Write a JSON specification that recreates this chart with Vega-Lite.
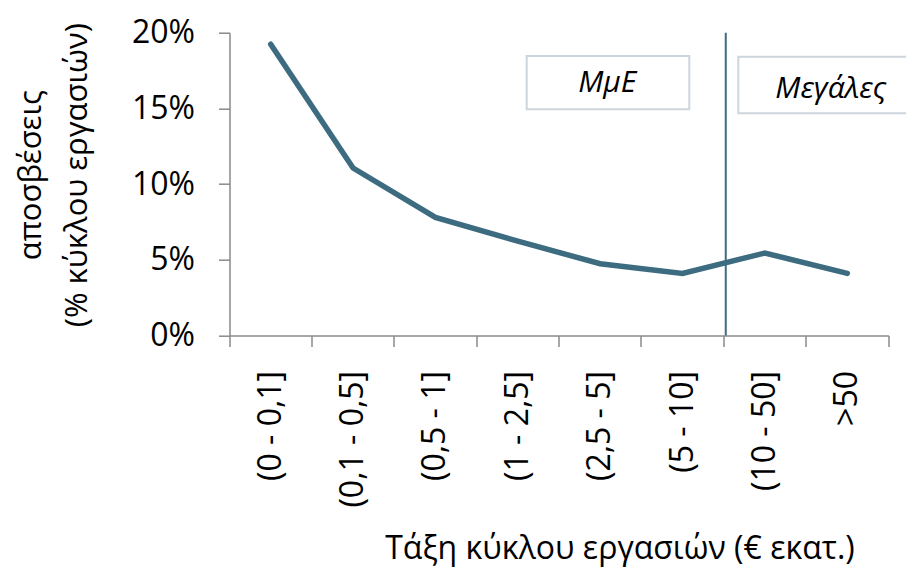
{
  "$schema": "https://vega.github.io/schema/vega-lite/v6.json",
  "autosize": {"type": "none"},
  "width": 659,
  "height": 302.8,
  "padding": {"left": 229.5, "top": 32.7, "right": 17.5, "bottom": 237.5},
  "background": "#ffffff",
  "datasets": {
    "series": [
      {"cat": "(0 - 0,1]", "v": 0.1924},
      {"cat": "(0,1 - 0,5]", "v": 0.1106},
      {"cat": "(0,5 - 1]", "v": 0.0780},
      {"cat": "(1 - 2,5]", "v": 0.0623},
      {"cat": "(2,5 - 5]", "v": 0.0474},
      {"cat": "(5 - 10]", "v": 0.0410},
      {"cat": "(10 - 50]", "v": 0.0545},
      {"cat": ">50", "v": 0.0410}
    ],
    "boxSME": [{"cat": "(2,5 - 5]", "lo": 0.1494, "hi": 0.1846, "t": 0.1610, "label": "ΜμΕ"}],
    "boxLarge": [{"cat": ">50", "lo": 0.1468, "hi": 0.1841, "t": 0.1568, "label": "Μεγάλες"}],
    "divider": [{"cat": "(10 - 50]"}]
  },
  "layer": [
    {
      "data": {"name": "boxSME"},
      "mark": {"type": "bar", "width": 162.6, "xOffset": 7.8, "fill": "#ffffff", "stroke": "#cdd5dc", "strokeWidth": 2},
      "encoding": {
        "x": {"field": "cat", "type": "ordinal", "title": "Τάξη κύκλου εργασιών (€ εκατ.)",
              "scale": {"type": "band", "paddingInner": 0, "paddingOuter": 0, "domain": ["(0 - 0,1]", "(0,1 - 0,5]", "(0,5 - 1]", "(1 - 2,5]", "(2,5 - 5]", "(5 - 10]", "(10 - 50]", ">50"]}},
        "y": {"field": "lo", "type": "quantitative", "title": ["αποσβέσεις", "(% κύκλου εργασιών)"], "scale": {"domain": [0, 0.2], "nice": false, "zero": true},
              "axis": {"values": [0, 0.05, 0.1, 0.15, 0.2], "format": ".0%"}},
        "y2": {"field": "hi"}
      }
    },
    {
      "data": {"name": "boxLarge"},
      "mark": {"type": "bar", "width": 186, "xOffset": -16, "fill": "#ffffff", "stroke": "#cdd5dc", "strokeWidth": 2},
      "encoding": {
        "x": {"field": "cat", "type": "ordinal", "title": "Τάξη κύκλου εργασιών (€ εκατ.)"},
        "y": {"field": "lo", "type": "quantitative", "title": ["αποσβέσεις", "(% κύκλου εργασιών)"],
              "axis": {"values": [0, 0.05, 0.1, 0.15, 0.2], "format": ".0%"}},
        "y2": {"field": "hi"}
      }
    },
    {
      "data": {"name": "boxSME"},
      "mark": {"type": "text", "font": "Open Sans", "fontStyle": "italic", "fontSize": 30, "color": "#000000", "align": "center", "baseline": "alphabetic"},
      "encoding": {
        "x": {"field": "cat", "type": "ordinal", "bandPosition": 0.586, "title": "Τάξη κύκλου εργασιών (€ εκατ.)"},
        "y": {"field": "t", "type": "quantitative", "title": ["αποσβέσεις", "(% κύκλου εργασιών)"],
              "axis": {"values": [0, 0.05, 0.1, 0.15, 0.2], "format": ".0%"}},
        "text": {"field": "label"}
      }
    },
    {
      "data": {"name": "boxLarge"},
      "mark": {"type": "text", "font": "Open Sans", "fontStyle": "italic", "fontSize": 30, "color": "#000000", "align": "center", "baseline": "alphabetic"},
      "encoding": {
        "x": {"field": "cat", "type": "ordinal", "bandPosition": 0.30, "title": "Τάξη κύκλου εργασιών (€ εκατ.)"},
        "y": {"field": "t", "type": "quantitative", "title": ["αποσβέσεις", "(% κύκλου εργασιών)"],
              "axis": {"values": [0, 0.05, 0.1, 0.15, 0.2], "format": ".0%"}},
        "text": {"field": "label"}
      }
    },
    {
      "data": {"name": "divider"},
      "mark": {"type": "rule", "color": "#3e6c80", "strokeWidth": 2, "xOffset": 2},
      "encoding": {
        "x": {"field": "cat", "type": "ordinal", "bandPosition": 0, "title": "Τάξη κύκλου εργασιών (€ εκατ.)"}
      }
    },
    {
      "data": {"name": "series"},
      "mark": {"type": "line", "color": "#3d6b80", "strokeWidth": 5.5, "strokeCap": "round", "strokeJoin": "miter"},
      "encoding": {
        "x": {"field": "cat", "type": "ordinal", "bandPosition": 0.5, "title": "Τάξη κύκλου εργασιών (€ εκατ.)"},
        "y": {"field": "v", "type": "quantitative", "title": ["αποσβέσεις", "(% κύκλου εργασιών)"],
              "axis": {"values": [0, 0.05, 0.1, 0.15, 0.2], "format": ".0%"}}
      }
    }
  ],
  "config": {
    "view": {"stroke": null},
    "axisX": {
      "grid": false,
      "domainColor": "#8a8a8a", "domainWidth": 1.5,
      "tickColor": "#8a8a8a", "tickWidth": 1.5, "tickSize": 11,
      "bandPosition": 1, "tickExtra": true,
      "labelAngle": -90, "labelFont": "Open Sans", "labelFontSize": 32, "labelColor": "#000000", "labelPadding": 24, "labelLimit": 300,
      "titleFont": "Open Sans", "titleFontSize": 32, "titleFontWeight": "normal", "titleColor": "#000000",
      "titleX": 390, "titleY": 222.5, "titleAlign": "center", "titleBaseline": "alphabetic"
    },
    "axisY": {
      "grid": false,
      "domainColor": "#8a8a8a", "domainWidth": 1.5,
      "tickColor": "#8a8a8a", "tickWidth": 1.5, "tickSize": 11,
      "labelFont": "Open Sans", "labelFontSize": 32, "labelColor": "#000000", "labelPadding": 24,
      "titleFont": "Open Sans", "titleFontSize": 31, "titleFontWeight": "normal", "titleColor": "#000000",
      "titleAngle": -90, "titleX": -189.5, "titleY": 142, "titleAlign": "center", "titleBaseline": "alphabetic", "titleLineHeight": 46
    }
  }
}
